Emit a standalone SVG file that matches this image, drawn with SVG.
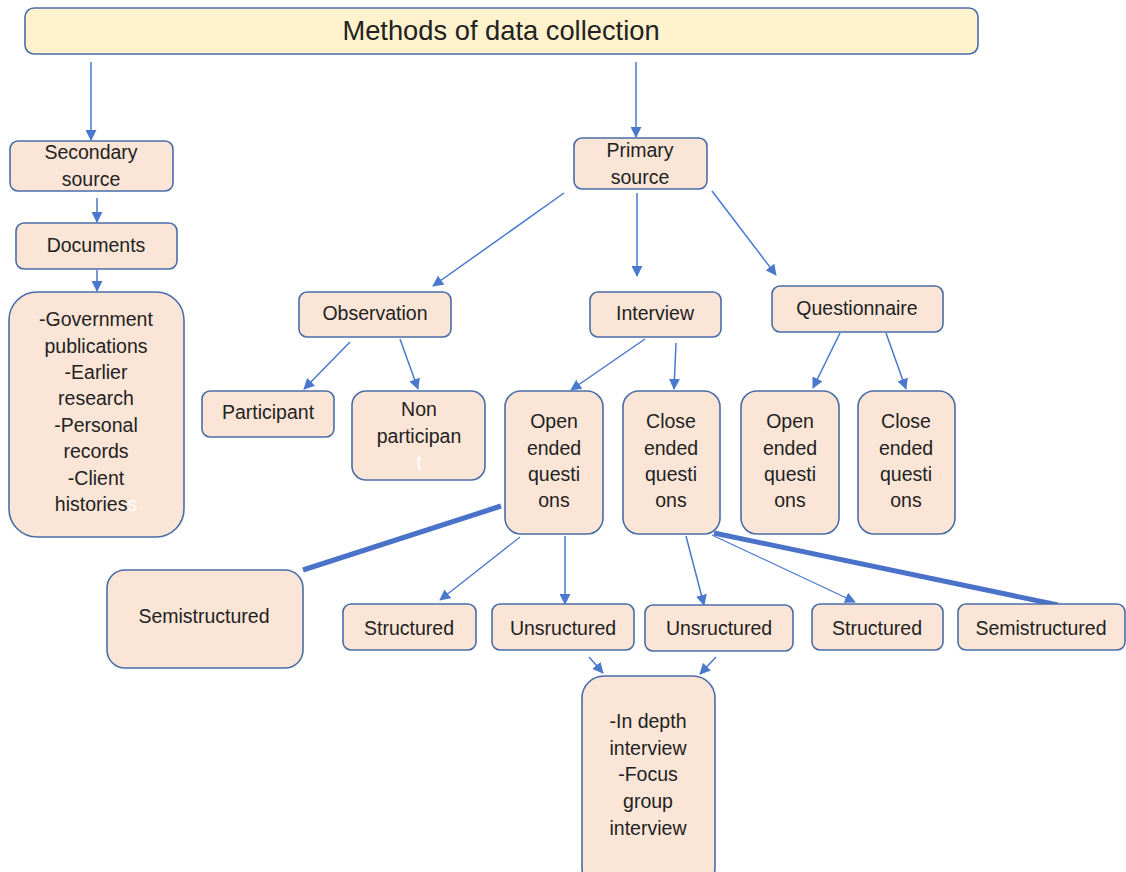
<svg xmlns="http://www.w3.org/2000/svg" width="1126" height="872" viewBox="0 0 1126 872">
<style>
.box{fill:#fbe5d6;stroke:#4a6da8;stroke-width:1.6}
.ttl{fill:#fff2cc;stroke:#4a6da8;stroke-width:1.6}
text{font-family:"Liberation Sans",Arial,sans-serif;font-size:19.5px;fill:#222;text-anchor:middle}
.big{font-size:27.3px}
.w{fill:#ffffff}
.a{fill:none;stroke:#4a78cc;stroke-width:1.5;marker-end:url(#ah)}
.thick{fill:none;stroke:#4a72c8;stroke-width:5}
</style>
<defs>
<marker id="ah" markerUnits="userSpaceOnUse" markerWidth="11" markerHeight="11" viewBox="0 0 12 12" refX="11" refY="6" orient="auto">
<path d="M0,0 L12,6 L0,12 Z" fill="#4a78cc"/>
</marker>
</defs>
<g id="connectors">
<line class="a" x1="91" y1="62" x2="91" y2="140"/>
<line class="a" x1="636" y1="62" x2="636" y2="137"/>
<line class="a" x1="97" y1="198" x2="97" y2="222"/>
<line class="a" x1="97" y1="270" x2="97" y2="291"/>
<line class="a" x1="564" y1="193" x2="433" y2="286"/>
<line class="a" x1="637" y1="193" x2="637" y2="276"/>
<line class="a" x1="712" y1="191" x2="776" y2="275"/>
<line class="a" x1="350" y1="342" x2="304" y2="389"/>
<line class="a" x1="400" y1="339" x2="418" y2="389"/>
<line class="a" x1="645" y1="339" x2="571" y2="390"/>
<line class="a" x1="676" y1="343" x2="674" y2="389"/>
<line class="a" x1="840" y1="333" x2="813" y2="388"/>
<line class="a" x1="886" y1="333" x2="906" y2="389"/>
<line class="thick" x1="501" y1="506" x2="303" y2="570"/>
<line class="a" style="stroke-width:1.2" x1="520" y1="537" x2="440" y2="600"/>
<line class="a" x1="565" y1="536" x2="565" y2="604"/>
<line class="a" x1="686" y1="536" x2="704" y2="605"/>
<line class="a" style="stroke-width:1.2" x1="712" y1="535" x2="855" y2="602"/>
<line class="thick" x1="714" y1="533" x2="1058" y2="605"/>
<line class="a" x1="589" y1="657" x2="603" y2="673"/>
<line class="a" x1="716" y1="657" x2="700" y2="674"/>
</g>
<g id="title"><rect class="ttl" x="25" y="8" width="953" height="46" rx="9"/><text class="big" x="501" y="40">Methods of data collection</text></g>
<g id="secondary"><rect class="box" x="10" y="141" width="163" height="50" rx="8"/><text x="91" y="159">Secondary</text><text x="91" y="186">source</text></g>
<g id="documents"><rect class="box" x="16" y="223" width="161" height="46" rx="8"/><text x="96" y="252">Documents</text></g>
<g id="docs-list"><rect class="box" x="9" y="292" width="175" height="245" rx="28"/>
<text x="96" y="326">-Government</text><text x="96" y="353">publications</text><text x="96" y="379">-Earlier</text><text x="96" y="405">research</text><text x="96" y="432">-Personal</text><text x="96" y="458">records</text><text x="96" y="485">-Client</text><text x="96" y="511">histories<tspan class="w">s</tspan></text></g>
<g id="primary"><rect class="box" x="574" y="138" width="133" height="51" rx="8"/><text x="640" y="157">Primary</text><text x="640" y="184">source</text></g>
<g id="observation"><rect class="box" x="299" y="292" width="152" height="45" rx="8"/><text x="375" y="320">Observation</text></g>
<g id="interview"><rect class="box" x="590" y="292" width="131" height="45" rx="8"/><text x="655" y="320">Interview</text></g>
<g id="questionnaire"><rect class="box" x="772" y="286" width="171" height="46" rx="8"/><text x="857" y="315">Questionnaire</text></g>
<g id="participant"><rect class="box" x="202" y="391" width="132" height="46" rx="8"/><text x="268" y="419">Participant</text></g>
<g id="nonparticipant"><rect class="box" x="352" y="391" width="133" height="89" rx="14"/><text x="419" y="416">Non</text><text x="419" y="443">participan</text><text class="w" x="419" y="469">t</text></g>
<g id="open1"><rect class="box" x="505" y="391" width="98" height="143" rx="16"/><text x="554" y="428">Open</text><text x="554" y="455">ended</text><text x="554" y="481">questi</text><text x="554" y="507">ons</text></g>
<g id="close1"><rect class="box" x="623" y="391" width="97" height="143" rx="16"/><text x="671" y="428">Close</text><text x="671" y="455">ended</text><text x="671" y="481">questi</text><text x="671" y="507">ons</text></g>
<g id="open2"><rect class="box" x="741" y="391" width="98" height="143" rx="16"/><text x="790" y="428">Open</text><text x="790" y="455">ended</text><text x="790" y="481">questi</text><text x="790" y="507">ons</text></g>
<g id="close2"><rect class="box" x="858" y="391" width="97" height="143" rx="16"/><text x="906" y="428">Close</text><text x="906" y="455">ended</text><text x="906" y="481">questi</text><text x="906" y="507">ons</text></g>
<g id="semi1"><rect class="box" x="107" y="570" width="196" height="98" rx="18"/><text x="204" y="623">Semistructured</text></g>
<g id="structured1"><rect class="box" x="343" y="604" width="133" height="46" rx="8"/><text x="409" y="635">Structured</text></g>
<g id="unstructured1"><rect class="box" x="492" y="604" width="142" height="46" rx="8"/><text x="563" y="635">Unsructured</text></g>
<g id="unstructured2"><rect class="box" x="645" y="605" width="148" height="46" rx="8"/><text x="719" y="635">Unsructured</text></g>
<g id="structured2"><rect class="box" x="812" y="604" width="131" height="46" rx="8"/><text x="877" y="635">Structured</text></g>
<g id="semi2"><rect class="box" x="958" y="604" width="167" height="46" rx="8"/><text x="1041" y="635">Semistructured</text></g>
<g id="indepth"><rect class="box" x="582" y="676" width="133" height="214" rx="22"/><text x="648" y="728">-In depth</text><text x="648" y="755">interview</text><text x="648" y="781">-Focus</text><text x="648" y="808">group</text><text x="648" y="835">interview</text></g>
</svg>
